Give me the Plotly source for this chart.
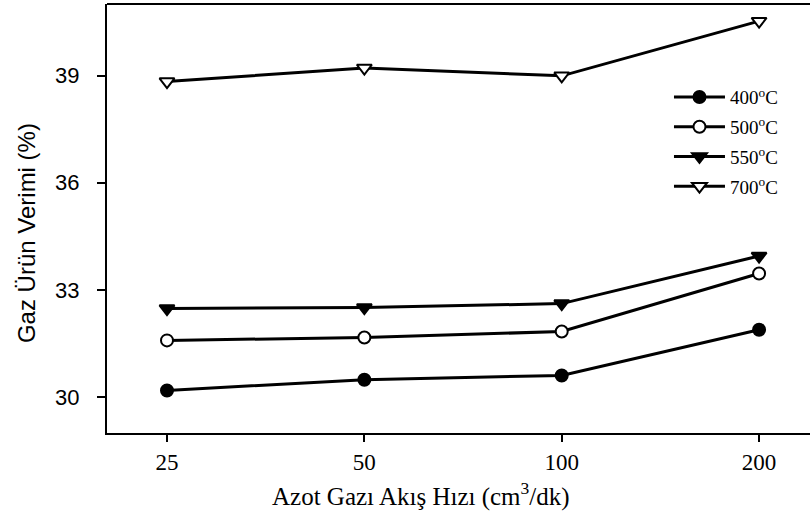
import plotly.graph_objects as go

# Nitrogen flow rates (cm3/dk) and gas product yields (%) for each pyrolysis temperature
flow_rates = ["25", "50", "100", "200"]
yield_400 = [30.19, 30.49, 30.61, 31.89]
yield_500 = [31.59, 31.67, 31.84, 33.46]
yield_550 = [32.48, 32.51, 32.62, 33.95]
yield_700 = [38.83, 39.21, 38.99, 40.52]

y_ticks = [30, 33, 36, 39]

series = [
    ("400<sup>o</sup>C", yield_400, "circle", "black"),
    ("500<sup>o</sup>C", yield_500, "circle", "white"),
    ("550<sup>o</sup>C", yield_550, "triangle-down", "black"),
    ("700<sup>o</sup>C", yield_700, "triangle-down", "white"),
]

fig = go.Figure()
for name, values, symbol, fill in series:
    fig.add_trace(go.Scatter(
        x=flow_rates,
        y=values,
        name=name,
        legendgroup=name,
        mode="lines+markers",
        line=dict(color="black", width=3),
        marker=dict(
            symbol=symbol,
            size=12 if symbol == "circle" else 13,
            color=fill,
            line=dict(color="black", width=2),
        ),
    ))

serif = "Liberation Serif"
sans = "Liberation Sans"

fig.update_layout(
    width=810,
    height=521,
    margin=dict(l=107, r=0, t=4, b=88),
    paper_bgcolor="white",
    plot_bgcolor="white",
    showlegend=True,
    legend=dict(
        x=0.7994,
        y=0.827,
        xanchor="left",
        yanchor="top",
        bgcolor="rgba(0,0,0,0)",
        font=dict(family=serif, size=19, color="black"),
        tracegroupgap=2,
        itemwidth=51,
    ),
    xaxis=dict(
        type="category",
        range=[-0.304, 3.258],
        showgrid=False,
        zeroline=False,
        showline=True,
        linecolor="black",
        linewidth=2,
        mirror=False,
        ticks="outside",
        ticklen=7,
        tickwidth=2,
        tickcolor="black",
        tickfont=dict(family=serif, size=23, color="black"),
    ),
    yaxis=dict(
        range=[29.0, 41.0],
        tickvals=y_ticks,
        showgrid=False,
        zeroline=False,
        showline=True,
        linecolor="black",
        linewidth=2,
        ticks="outside",
        ticklen=8,
        tickwidth=2,
        tickcolor="black",
        ticklabelstandoff=13,
        tickfont=dict(family=sans, size=22, color="black"),
    ),
)

# axis titles
fig.add_annotation(
    text="Azot Gazı Akış Hızı (cm<sup>3</sup>/dk)",
    xref="paper", yref="paper", x=0.4467, y=-0.1445,
    xanchor="center", yanchor="middle", showarrow=False,
    font=dict(family=serif, size=25, color="black"),
)
fig.add_annotation(
    text="Gaz Ürün Verimi (%)",
    xref="paper", yref="paper", x=-0.1152, y=0.466,
    xanchor="center", yanchor="middle", showarrow=False, textangle=-90,
    font=dict(family=sans, size=24, color="black"),
)

# top frame line across the plotting area
fig.add_shape(
    type="line", xref="paper", yref="paper",
    x0=0, x1=1, y0=1, y1=1,
    line=dict(color="black", width=2),
)

fig.write_html("out.html")
